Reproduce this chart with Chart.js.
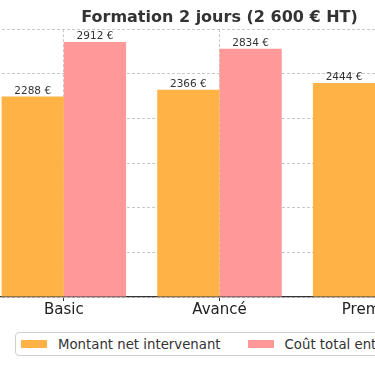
<!DOCTYPE html>
<html>
<head>
<meta charset="utf-8">
<script src="https://cdn.jsdelivr.net/npm/chart.js@4.4.1/dist/chart.umd.min.js"></script>
<style>
  html,body{margin:0;padding:0;background:#fff;overflow:hidden;width:375px;height:366px;position:relative;}
  /* le graphique d'origine est plus large que la fenêtre : on le décale pour garder le même cadrage */
  #wrap{position:absolute;left:-14px;top:0;width:467px;height:330px;}
  #legend{position:absolute;left:15px;top:332px;height:22px;padding:0 4px;border:1px solid #cfcfcf;border-radius:4px;
    display:flex;align-items:center;white-space:nowrap;font:13.3px 'DejaVu Sans',sans-serif;color:#333;}
  #legend .it{display:flex;align-items:center;margin-right:26px;}
  #legend .sw{width:26px;height:8px;margin:0 11px 0 1px;}
</style>
</head>
<body>
<div id="wrap"><canvas id="chart"></canvas></div>
<div id="legend"></div>
<script>
const TITLE = "Formation 2 jours (2 600 € HT)";
const CATEGORIES = ["Basic", "Avancé", "Premium"];
const SERIES_NAMES = ["Montant net intervenant", "Coût total entreprise"];
const SERIES_COLORS = ["#FFB347", "#FF9999"];
const NET_INTERVENANT = [2288, 2366, 2444];
const COUT_ENTREPRISE = [2912, 2834, 2756];
const Y_MAX = 3057.6;
const Y_STEP = 500;

const FONT = "'DejaVu Sans', sans-serif";
const GRID = "#c8c8c8";

// étiquettes "xxxx €" au-dessus des barres
const valuePlugin = {
  id: "values",
  afterDatasetsDraw(chart){
    const { ctx } = chart;
    ctx.save();
    ctx.font = "10.5px " + FONT; ctx.fillStyle = "#333";
    ctx.textAlign = "center"; ctx.textBaseline = "bottom";
    chart.data.datasets.forEach((ds, i) => {
      chart.getDatasetMeta(i).data.forEach((el, j) => {
        ctx.fillText(ds.data[j] + " €", el.x, el.y);
      });
    });
    ctx.restore();
  }
};

const chart = new Chart(document.getElementById("chart"), {
  type: "bar",
  data: {
    labels: CATEGORIES,
    datasets: [
      { label: SERIES_NAMES[0], data: NET_INTERVENANT, backgroundColor: SERIES_COLORS[0], borderWidth: 0,
        categoryPercentage: 0.8, barPercentage: 1.0 },
      { label: SERIES_NAMES[1], data: COUT_ENTREPRISE, backgroundColor: SERIES_COLORS[1], borderWidth: 0,
        categoryPercentage: 0.8, barPercentage: 1.0 }
    ]
  },
  options: {
    responsive: true, maintainAspectRatio: false, animation: false,
    layout: { padding: { left: 0, right: 0, top: 0, bottom: 11 } },
    plugins: {
      title: { display: true, text: TITLE, color: "#333",
        font: { family: FONT, size: 16, weight: "bold" }, padding: { top: 8, bottom: 2 } },
      legend: { display: false },
      tooltip: { enabled: false }
    },
    scales: {
      x: {
        grid: { offset: false, color: GRID, lineWidth: 1, tickLength: 4, tickColor: "#333",
          tickWidth: 1, tickBorderDash: [] },
        border: { color: "#333", width: 1.25, dash: [3, 2] },
        ticks: { color: "#222", padding: 0, font: { family: FONT, size: 15 } }
      },
      y: {
        min: 0, max: Y_MAX,
        ticks: { display: false, stepSize: Y_STEP, includeBounds: false },
        grid: { color: GRID, lineWidth: 1, drawTicks: false },
        border: { color: GRID, width: 1, dash: [3, 2] }   // l'axe y est hors cadre
      }
    }
  },
  plugins: [valuePlugin]
});

// légende HTML construite à partir des jeux de données
document.getElementById("legend").innerHTML = chart.data.datasets.map(ds =>
  `<span class="it"><span class="sw" style="background:${ds.backgroundColor}"></span>${ds.label}</span>`).join("");
</script>
</body>
</html>
